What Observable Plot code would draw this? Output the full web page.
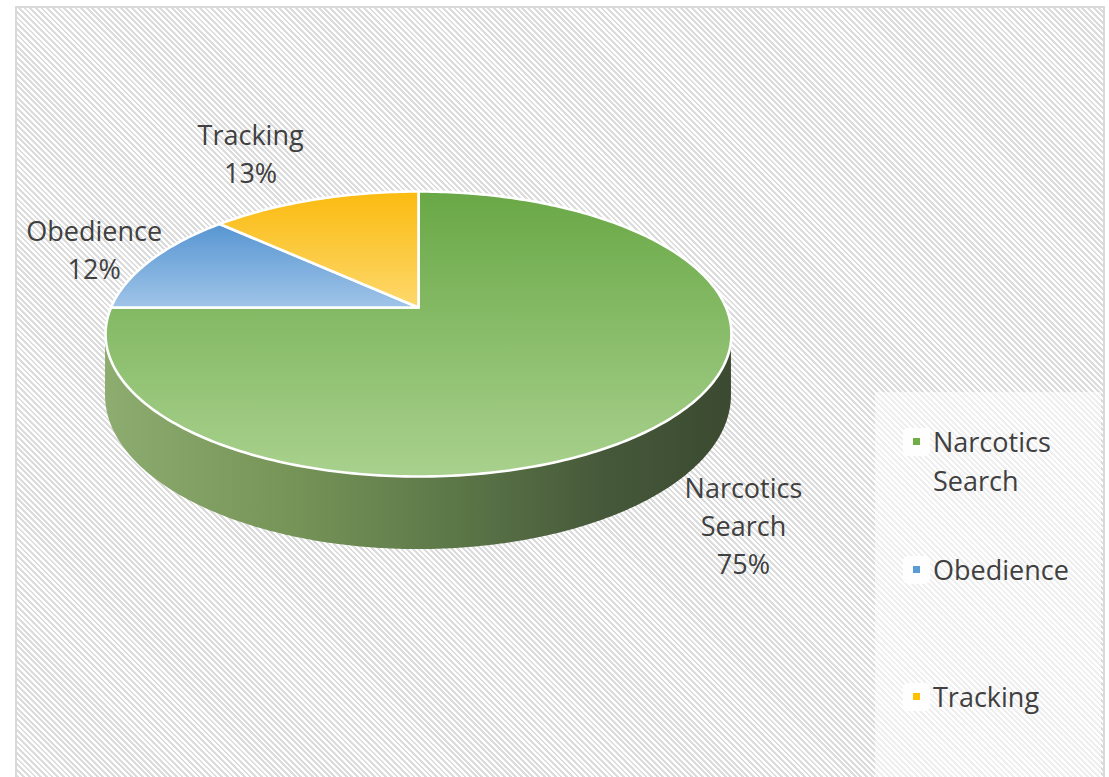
<!DOCTYPE html>
<html>
<head>
<meta charset="utf-8">
<script src="https://cdn.jsdelivr.net/npm/d3@7"></script>
<script src="https://cdn.jsdelivr.net/npm/@observablehq/plot@0.6"></script>
<style>
  html, body { margin: 0; padding: 0; background: #ffffff; }
  #wrap { position: relative; width: 1109px; height: 777px; overflow: hidden; background: #fff; font-family: "Open Sans", sans-serif; }
  #frame { position: absolute; left: 15px; top: 6px; width: 1086px; height: 800px; border: 2px solid #d9d9d9;
    background: repeating-linear-gradient(45deg, #ffffff 0px, #ffffff 2px, #dcdcdc 2px, #dcdcdc 4px); }
  #chart { position: absolute; left: 0; top: 0; }
  #legend { position: absolute; left: 875px; top: 392px; width: 226px; height: 400px; background: rgba(255,255,255,0.55); }
  .item { position: absolute; left: 28px; }
  .item .box { position: absolute; left: 0; width: 27px; height: 28px; border-radius: 5px; background: rgba(255,255,255,0.9); }
  .item .sw { position: absolute; left: 10px; top: 10px; width: 7px; height: 7px; }
  .item .lbl { position: absolute; left: 30px; top: -6px; font-size: 27px; line-height: 39px; color: #404040; white-space: pre; }
</style>
</head>
<body>
<div id="wrap">
  <div id="frame"></div>
  <div id="chart"></div>
  <div id="legend"></div>
</div>
<script>
// ---- data ----
const categories = ["Narcotics Search", "Obedience", "Tracking"];
const values = [75, 12, 13];

// ---- styling (not data) ----
const topGrad = {
  "Narcotics Search": ["#69a846", "#a9d18e"],
  "Obedience": ["#5796d2", "#a0c4e8"],
  "Tracking": ["#fbbb10", "#fdd86c"]
};
const swatch = { "Narcotics Search": "#70ad47", "Obedience": "#5b9bd5", "Tracking": "#ffc000" };
const labelTweak = { // [radius, dx px, dy px]
  "Narcotics Search": [1.3, -16, 64],
  "Obedience": [1.3, 17, 1],
  "Tracking": [1.3, -38, -21]
};
const K = 0.186;   // perspective strength
const DEPTH = 0.432; // side thickness in y units
const SX = 307.5, SY = 137.6;

const total = d3.sum(values);
const rad = Math.PI / 180;
function proj(thetaDeg, r = 1) {
  const t = thetaDeg * rad;
  const u = r * Math.sin(t), v = -r * Math.cos(t);
  const w = 1 - K * v;
  return { X: u / w, Y: v / w, w };
}

// slices (clockwise from 12 o'clock)
let acc = 0;
const slices = categories.map((c, i) => {
  const a0 = acc / total * 360;
  acc += values[i];
  const a1 = acc / total * 360;
  return { key: c, value: values[i], a0, a1, pct: d3.format(".0%")(values[i] / total) };
});

function slicePoints(s) {
  const pts = [{ X: 0, Y: 0 }];
  const n = Math.max(2, Math.ceil(s.a1 - s.a0));
  for (let j = 0; j <= n; j++) {
    const p = proj(s.a0 + (s.a1 - s.a0) * j / n);
    pts.push({ X: p.X, Y: p.Y });
  }
  pts.push({ X: 0, Y: 0 });
  return pts;
}

// visible front side: between the two horizontal extremes (v = K)
const tExt = Math.acos(-K) / rad; // ~100.7 deg
const sidePts = [];
for (let th = 360 - tExt; th >= tExt - 1e-9; th -= 0.5) {
  const p = proj(th);
  sidePts.push({ X: p.X, y1: p.Y, y2: p.Y + DEPTH / p.w });
}
{
  const p = proj(tExt);
  sidePts.push({ X: p.X, y1: p.Y, y2: p.Y + DEPTH / p.w });
}

// labels
const labels = slices.map(s => {
  const [r, dx, dy] = labelTweak[s.key];
  const p = proj((s.a0 + s.a1) / 2, r);
  return { X: p.X + dx / SX, Y: p.Y + dy / SY, text: s.key.replace(" ", "\n") + "\n" + s.pct };
});

const gid = k => "g" + categories.indexOf(k);

const marks = [
  Plot.areaY(sidePts, { x: "X", y1: "y1", y2: "y2", fill: "url(#gside)", stroke: "none" }),
  ...slices.map(s => Plot.line(slicePoints(s), {
    x: "X", y: "Y", fill: `url(#${gid(s.key)})`, stroke: "#ffffff", strokeWidth: 2.6, strokeLinejoin: "round"
  })),
  Plot.text(labels, {
    x: "X", y: "Y", text: "text", fontSize: 27, lineHeight: 1.41, fill: "#404040",
    fontFamily: "Open Sans", textAnchor: "middle"
  })
];

const svg = Plot.plot({
  width: 1109, height: 777,
  margin: 0,
  x: { domain: [-1, 1], range: [418 - SX, 418 + SX], axis: null },
  y: { domain: [-1, 1], range: [307 - SY, 307 + SY], axis: null },
  style: { background: "transparent", overflow: "visible" },
  marks
});

// gradients
const defs = d3.select(svg).insert("defs", ":first-child");
const side = defs.append("linearGradient").attr("id", "gside").attr("x1", 0).attr("x2", 1).attr("y1", 0).attr("y2", 0);
[[0, "#8dac70"], [0.3, "#769458"], [0.55, "#5d7848"], [0.8, "#46583a"], [1, "#3b4a30"]].forEach(([o, c]) =>
  side.append("stop").attr("offset", o).attr("stop-color", c));
slices.forEach(s => {
  const g = defs.append("linearGradient").attr("id", gid(s.key)).attr("x1", 0).attr("x2", 0).attr("y1", 0).attr("y2", 1);
  g.append("stop").attr("offset", 0).attr("stop-color", topGrad[s.key][0]);
  g.append("stop").attr("offset", 1).attr("stop-color", topGrad[s.key][1]);
});

document.getElementById("chart").appendChild(svg);

// legend
const legendTops = [50, 178, 305]; // item vertical placement inside legend box
const legend = d3.select("#legend");
categories.forEach((c, i) => {
  const it = legend.append("div").attr("class", "item").style("top", (legendTops[i] - 14) + "px");
  it.append("div").attr("class", "box");
  it.append("div").attr("class", "sw").style("background", swatch[c]);
  it.append("div").attr("class", "lbl").text(c.replace(" ", "\n"));
});
</script>
</body>
</html>
